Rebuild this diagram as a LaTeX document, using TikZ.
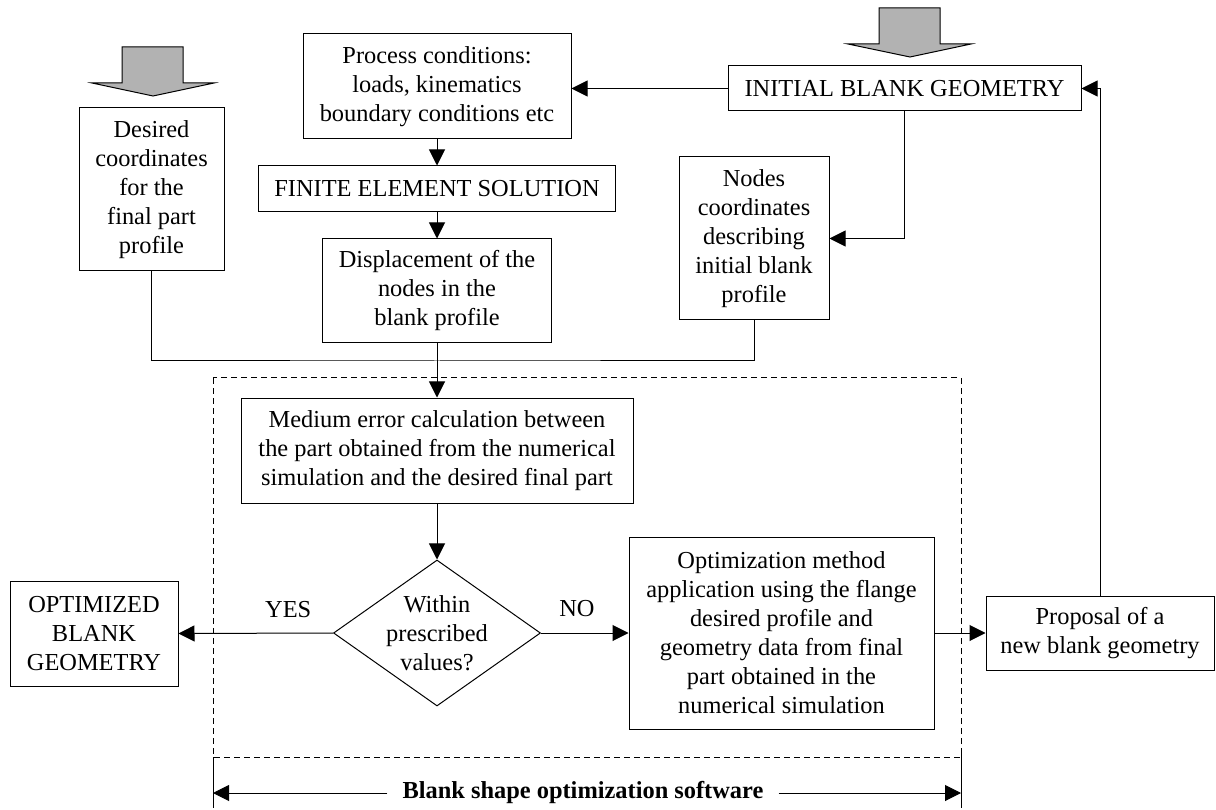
\documentclass[tikz,border=0pt]{standalone}
\usepackage{fontspec}
\setmainfont{Liberation Serif}
\usetikzlibrary{arrows.meta,shapes.geometric}
\tikzset{
	box/.style={draw, line width=1pt, align=center, inner sep=0pt},
	decision/.style={draw, diamond, line width=1pt, inner sep=0pt, minimum width=207pt, minimum height=146pt},
	link/.style={line width=1pt},
	arr/.style={line width=1pt, -{Triangle[length=16pt,width=16pt]}},
	bigarrow/.style={draw, line width=1pt, fill=gray!60},
}
\begin{document}
\begin{tikzpicture}[x=1pt, y=-1pt, font=\fontsize{24.4}{29}\selectfont]
	\useasboundingbox (0,0) rectangle (1216,810);
	% input arrows
	\draw[bigarrow] (122,47) -- (183,47) -- (183,83) -- (214,83) -- (153,96) -- (92,83) -- (122,83) -- cycle;
	\draw[bigarrow] (879,8) -- (940,8) -- (940,44) -- (971,44) -- (910,57) -- (848,44) -- (879,44) -- cycle;
	% boxes
	\node[box, minimum width=145pt, minimum height=163pt] (desired) at (151.5,189.5) {Desired\\coordinates\\for the\\final part\\profile};
	\node[box, minimum width=268pt, minimum height=105pt] (process) at (437,86.5) {Process conditions:\\loads, kinematics\\boundary conditions etc};
	\node[box, minimum width=353pt, minimum height=45pt] (initial) at (904.5,88.5) {INITIAL BLANK GEOMETRY};
	\node[box, minimum width=357pt, minimum height=46pt] (fes) at (437,189) {FINITE ELEMENT SOLUTION};
	\node[box, minimum width=229pt, minimum height=104pt] (disp) at (437,291) {Displacement of the\\nodes in the\\blank profile};
	\node[box, minimum width=150pt, minimum height=163pt] (nodes) at (754,238.5) {Nodes\\coordinates\\describing\\initial blank\\profile};
	\node[box, minimum width=392pt, minimum height=105pt] (medium) at (437,450.5) {Medium error calculation between\\the part obtained from the numerical\\simulation and the desired final part};
	\node[decision, label={[align=center]center:{Within\\prescribed\\values?}}] (check) at (437,633) {};
	\node[box, minimum width=168pt, minimum height=105pt] (opt) at (94,633.5) {OPTIMIZED\\BLANK\\GEOMETRY};
	\node[box, minimum width=305pt, minimum height=192pt] (optim) at (781.5,633) {Optimization method\\application using the flange\\desired profile and\\geometry data from final\\part obtained in the\\numerical simulation};
	\node[box, minimum width=228pt, minimum height=74pt] (proposal) at (1100,633) {Proposal of a\\new blank geometry};
	% connectors
	\draw[arr] (initial.west) -- (initial.west -| process.east);
	\draw[arr] (process) -- (fes);
	\draw[arr] (fes) -- (disp);
	\draw[arr] (initial.south) |- (nodes.east);
	\coordinate (join) at (437,361);
	\draw[link] (desired.south) |- (join) -| (nodes.south);
	\draw[arr] (disp) -- (medium);
	\draw[arr] (medium) -- (check);
	\draw[arr] (check.west) -- node[pos=0.29, above=12pt]{YES} (opt.east);
	\draw[arr] (check.east) -- node[pos=0.41, above=12pt]{NO} (optim.west);
	\draw[arr] (optim.east) -- (proposal.west);
	\draw[arr] (proposal.north) |- (initial.east);
	% software frame
	\draw[link, dash pattern=on 6pt off 4pt] (213,378) rectangle (961,757);
	\draw[link] (213,757) -- (213,808);
	\draw[link] (961,753) -- (961,808);
	\coordinate (swL) at (213,793);
	\coordinate (swR) at (961,793);
	\node[font=\fontsize{24.4}{29}\selectfont\bfseries, inner xsep=15pt] (software) at (583,793) {Blank shape optimization software};
	\draw[arr] (software) -- (swL);
	\draw[arr] (software) -- (swR);
\end{tikzpicture}
\end{document}
